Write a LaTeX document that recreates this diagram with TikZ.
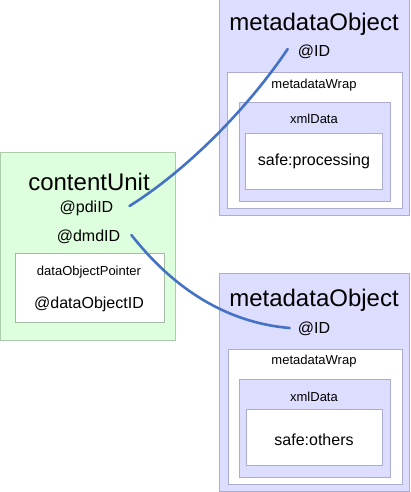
\documentclass[tikz,border=0pt]{standalone}
\usepackage{fontspec}
\setmainfont{Liberation Sans}
\definecolor{ObjFill}{RGB}{221,221,255}
\definecolor{ObjLine}{RGB}{172,172,206}
\definecolor{UnitFill}{RGB}{221,255,221}
\definecolor{UnitLine}{RGB}{172,202,172}
\definecolor{LinkBlue}{RGB}{68,114,196}

\begin{document}
\begin{tikzpicture}[x=1pt,y=-1pt,
      box/.style 2 args={draw=ObjLine,line width=1pt,inner sep=0pt,outer sep=0pt,
                  minimum width=#1pt,minimum height=#2pt},
      objbox/.style 2 args={box={#1}{#2},fill=ObjFill},
      wbox/.style 2 args={box={#1}{#2},fill=white},
      unitbox/.style 2 args={box={#1}{#2},draw=UnitLine,fill=UnitFill},
      title/.style={inner sep=0pt,font=\fontsize{24}{28}\selectfont},
      attr/.style={inner sep=0pt,font=\fontsize{16}{19}\selectfont},
      tag/.style={inner sep=0pt,font=\fontsize{13}{15}\selectfont},
      link/.style={draw=LinkBlue,line width=2.6pt,line cap=round}]
    \useasboundingbox (0,0) rectangle (410,492);
    % upper metadata object
    \node[objbox={190}{215}] (objA) at (314,107.5) {};
    \node[wbox={175}{135}] (wrapA) at (314.5,140.5) {};
    \node[objbox={151}{98}] (xmlA) at (314.5,152) {};
    \node[wbox={137}{56}] (safeA) at (313.5,161) {};
    \node[title] (titleA) at (314,24) {metadataObject};
    \node[attr] (idA) at (314,52) {@ID};
    \node[tag] (wtagA) at (314,85) {metadataWrap};
    \node[tag] (xtagA) at (314,119) {xmlData};
    \node[attr] (valA) at (314,161) {safe:processing};
    % lower metadata object
    \node[objbox={190}{218.5}] (objB) at (314,382.25) {};
    \node[wbox={174}{135}] (wrapB) at (315,416.5) {};
    \node[objbox={151}{98}] (xmlB) at (314.5,428) {};
    \node[wbox={136}{56}] (safeB) at (314,437) {};
    \node[title] (titleB) at (314,300) {metadataObject};
    \node[attr] (idB) at (314,329) {@ID};
    \node[tag] (wtagB) at (314,361) {metadataWrap};
    \node[tag] (xtagB) at (314,397) {xmlData};
    \node[attr] (valB) at (314,440) {safe:others};
    % content unit
    \node[unitbox={175}{188}] (unit) at (88,246) {};
    \node[box={149}{69},draw=UnitLine!80!gray,fill=white] (ptr) at (89.5,287.5) {};
    \node[title] (unitTitle) at (89,182) {contentUnit};
    \node[attr] (pdi) at (86.5,208) {@pdiID};
    \node[attr] (dmd) at (88.5,237) {@dmdID};
    \node[tag] (ptrTag) at (89,272) {dataObjectPointer};
    \node[attr] (dobj) at (89,304) {@dataObjectID};
    % links
    \draw[link] ([xshift=16pt,yshift=2pt]pdi.east) .. controls +(59,-37) and +(-39,58) .. ([xshift=-10pt,yshift=3pt]idA.west);
    \draw[link] ([xshift=11pt,yshift=2pt]dmd.east) .. controls +(37,47) and +(-70,-6) .. ([xshift=-8pt,yshift=1pt]idB.west);
  \end{tikzpicture}
\end{document}
